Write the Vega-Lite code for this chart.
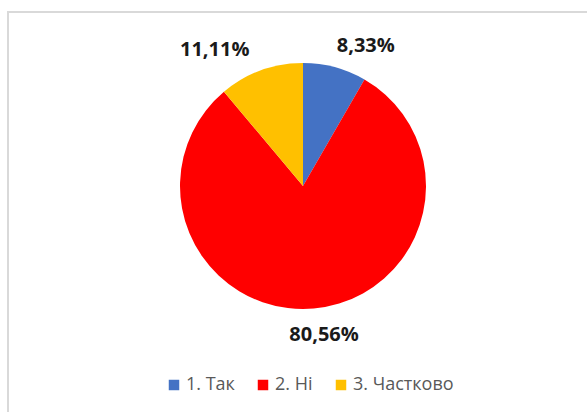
{
  "$schema": "https://vega.github.io/schema/vega-lite/v6.json",
  "width": 580,
  "height": 401,
  "autosize": {"type": "none"},
  "padding": {"left": 8, "top": 12, "right": 0, "bottom": 0},
  "background": "white",
  "view": {"stroke": "#d9d9d9", "strokeWidth": 2, "fill": "white"},
  "config": {
    "view": {"stroke": "#d9d9d9", "strokeWidth": 2},
    "font": "Open Sans"
  },
  "data": {
    "values": [
      {"cat": "1. Так", "value": 8.33, "label": "8,33%", "order": 1},
      {"cat": "2. Ні", "value": 80.56, "label": "80,56%", "order": 2},
      {"cat": "3. Частково", "value": 11.11, "label": "11,11%", "order": 3}
    ]
  },
  "encoding": {
    "theta": {"field": "value", "type": "quantitative", "stack": true},
    "order": {"field": "order", "type": "quantitative"},
    "color": {
      "field": "cat",
      "type": "nominal",
      "scale": {
        "domain": ["1. Так", "2. Ні", "3. Частково"],
        "range": ["#4472C4", "#FF0000", "#FFC000"]
      },
      "legend": {
        "title": null,
        "orient": "none",
        "direction": "horizontal",
        "legendX": 157,
        "legendY": 364,
        "symbolType": "square",
        "symbolSize": 110,
        "symbolStrokeWidth": 0,
        "labelFontSize": 18,
        "labelColor": "#595959",
        "labelFont": "Open Sans",
        "labelOffset": 3,
        "columnPadding": 19,
        "padding": 0
      }
    }
  },
  "layer": [
    {
      "mark": {"type": "arc", "outerRadius": 123, "x": 295, "y": 174}
    },
    {
      "mark": {"type": "text", "radius": 150, "x": 295, "y": 174, "dx": 24, "dy": 5, "fontSize": 20, "fontWeight": "bold"},
      "encoding": {
        "text": {"condition": {"test": "datum.order === 1", "field": "label"}, "value": ""},
        "color": {"value": "#1a1a1a"}
      }
    },
    {
      "mark": {"type": "text", "radius": 150, "x": 295, "y": 174, "dx": 8, "dy": 0, "fontSize": 20, "fontWeight": "bold"},
      "encoding": {
        "text": {"condition": {"test": "datum.order === 2", "field": "label"}, "value": ""},
        "color": {"value": "#1a1a1a"}
      }
    },
    {
      "mark": {"type": "text", "radius": 150, "x": 295, "y": 174, "dx": -37, "dy": 5, "fontSize": 20, "fontWeight": "bold"},
      "encoding": {
        "text": {"condition": {"test": "datum.order === 3", "field": "label"}, "value": ""},
        "color": {"value": "#1a1a1a"}
      }
    }
  ]
}
